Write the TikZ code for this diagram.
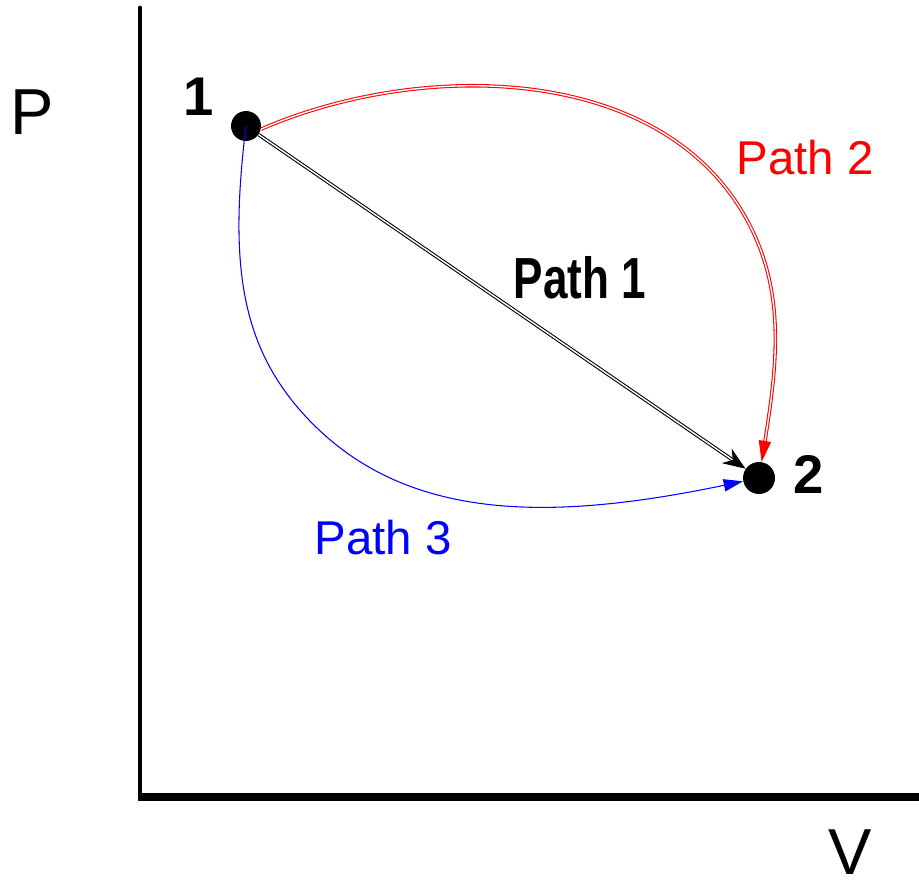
\documentclass[tikz,border=0pt]{standalone}
\usepackage{fontspec}
\setmainfont{Liberation Sans}
\usepackage{tikz}
\usetikzlibrary{arrows.meta, positioning}

\begin{document}
\begin{tikzpicture}[x=0.02cm, y=-0.02cm, >=Stealth,
    dot/.style={circle, draw=none, fill=black, minimum size=0.6cm, inner sep=0pt},
    lbl/.style={inner sep=0pt, font=\fontsize{27}{30}\selectfont},
    axlbl/.style={inner sep=0pt, font=\fontsize{37}{40}\selectfont},
    numlbl/.style={inner sep=0pt, font=\fontsize{31}{34}\selectfont\bfseries},
    dline/.style={double, double distance=0.8pt, line width=0.6pt}]
  \useasboundingbox (0,0) rectangle (919,885);
  % Axes
  \coordinate (orig) at (140,797);
  \coordinate (ptop) at (140,8);
  \coordinate (vend) at (919,797);
  \draw[line width=2.8pt, line cap=round] (orig) -- (ptop);
  \draw[line width=4pt] ([xshift=-1.4pt]orig) -- (vend);
  \node[axlbl] (plbl) at (32,112) {P};
  \node[axlbl] (vlbl) at (850,852) {V};
  % States
  \node[dot] (pt1) at (246,126) {};
  \node[dot, minimum size=0.64cm] (pt2) at (759,478) {};
  \node[numlbl] (one) at (199,97) {1};
  \node[numlbl] (two) at (809,474) {2};
  % Paths
  \draw[dline, -{Stealth[length=13pt, width=10pt]}] (pt1) -- (pt2);
  \draw[dline, red, -{Triangle[length=12pt, width=7pt]}] (pt1.-12)
     .. controls (420,60) and (661,62) .. (747,220)
     .. controls (785,290) and (778,360) .. (pt2);
  \draw[blue, line width=0.6pt, -{Triangle[length=11pt, width=7pt]}] (pt1.center)
     .. controls (229,264) and (240,348) .. (309,420)
     .. controls (406,521) and (548,522) .. (pt2);
  \node[lbl, font=\fontsize{33}{36}\selectfont\bfseries] (path1) at (580,278)
        {\scalebox{0.76}[1]{Path 1}};
  \node[lbl, red] (path2) at (805,158) {Path 2};
  \node[lbl, blue] (path3) at (383,538) {Path 3};
\end{tikzpicture}
\end{document}
